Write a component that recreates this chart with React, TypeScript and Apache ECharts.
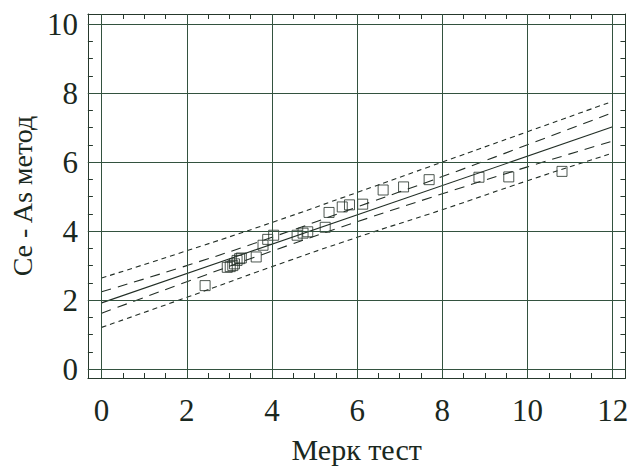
import React, { useEffect, useRef } from "react";
import * as echarts from "echarts";

// Scatter data: Merck test (x) vs Ce-As method (y)
const merckX = [2.43, 2.95, 3.02, 3.08, 3.12, 3.18, 3.24, 3.28, 3.63, 3.79, 3.9, 4.04, 4.59, 4.73, 4.84, 5.25, 5.34, 5.65, 5.82, 6.13, 6.61, 7.09, 7.69, 8.86, 9.56, 10.81];
const ceAsY = [2.42, 2.95, 2.97, 3.0, 3.05, 3.15, 3.2, 3.22, 3.25, 3.59, 3.76, 3.88, 3.88, 3.94, 3.98, 4.11, 4.54, 4.7, 4.76, 4.78, 5.19, 5.28, 5.49, 5.56, 5.57, 5.73];

// Regression line
const fitX = [0, 12];
const fitY = [1.92, 7.02];

// Bands read at grid x positions
const bandX = [0, 2, 4, 6, 8, 10, 12];
const upperPred = [2.64, 3.43, 4.25, 5.12, 6.0, 6.88, 7.76];
const upperConf = [2.24, 3.0, 3.82, 4.7, 5.58, 6.5, 7.43];
const lowerConf = [1.62, 2.53, 3.42, 4.27, 5.08, 5.86, 6.61];
const lowerPred = [1.21, 2.08, 2.97, 3.82, 4.62, 5.46, 6.26];

// Ticks
const xMajorTicks = [0, 2, 4, 6, 8, 10, 12];
const yMajorTicks = [0, 2, 4, 6, 8, 10];
const xMinorTicks = [0, 0.5, 1, 1.5, 2, 2.5, 3, 3.5, 4, 4.5, 5, 5.5, 6, 6.5, 7, 7.5, 8, 8.5, 9, 9.5, 10, 10.5, 11, 11.5, 12];
const yMinorTicks = [0, 0.5, 1, 1.5, 2, 2.5, 3, 3.5, 4, 4.5, 5, 5.5, 6, 6.5, 7, 7.5, 8, 8.5, 9, 9.5, 10];

const X_MIN = -0.322;
const X_MAX = 12.3;
const Y_MIN = -0.257;
const Y_MAX = 10.29;

const FONT = "'Liberation Serif', 'DejaVu Serif', serif";
const TEXT = "#1a2820";
const AXIS = "#26382c";
const GRID = "#33523f";
const INK = "#222e26";

const zip = (xs: number[], ys: number[]) => xs.map((x, i) => [x, ys[i]]);

export default function App() {
  const ref = useRef<HTMLDivElement>(null);

  useEffect(() => {
    if (!ref.current) return;
    const chart = echarts.init(ref.current, undefined, { renderer: "svg" });

    const frameAxis = (pos: string, isX: boolean, main: boolean) => ({
      type: "value",
      position: pos,
      min: isX ? X_MIN : Y_MIN,
      max: isX ? X_MAX : Y_MAX,
      axisLine: { show: true, onZero: false, lineStyle: { color: AXIS, width: 1 } },
      axisTick: {
        show: true,
        inside: true,
        length: 5,
        customValues: isX ? xMinorTicks : yMinorTicks,
        lineStyle: { color: AXIS, width: 1 },
      },
      axisLabel: main
        ? {
            show: true,
            customValues: isX ? xMajorTicks : yMajorTicks,
            margin: isX ? 17 : 10,
            fontSize: 31,
            fontFamily: FONT,
            color: TEXT,
          }
        : { show: false },
      splitLine: { show: false },
      ...(main
        ? {
            name: isX ? "Мерк тест" : "Ce - As метод",
            nameLocation: "middle",
            nameGap: isX ? 56 : 49,
            nameTextStyle: { fontSize: isX ? 30 : 28, fontFamily: FONT, color: TEXT },
          }
        : {}),
    });

    const dashLine = (name: string, ys: number[], dash: number[]) => ({
      name,
      type: "line",
      data: zip(bandX, ys),
      smooth: true,
      showSymbol: false,
      symbol: "none",
      silent: true,
      lineStyle: { color: INK, width: 1.1, type: dash },
      z: 3,
    });

    chart.setOption({
      animation: false,
      backgroundColor: "#ffffff",
      grid: { left: 80, top: 14, width: 548, height: 369, containLabel: false },
      xAxis: [frameAxis("bottom", true, true), frameAxis("top", true, false)],
      yAxis: [frameAxis("left", false, true), frameAxis("right", false, false)],
      series: [
        {
          name: "grid",
          type: "line",
          data: [],
          silent: true,
          z: 1,
          markLine: {
            silent: true,
            symbol: "none",
            label: { show: false },
            lineStyle: { color: GRID, width: 1, type: "solid" },
            data: [
              ...xMajorTicks.map((v) => ({ xAxis: v })),
              ...yMajorTicks.map((v) => ({ yAxis: v })),
            ],
          },
        },
        dashLine("upperPred", upperPred, [5, 4]),
        dashLine("upperConf", upperConf, [10, 7]),
        dashLine("lowerConf", lowerConf, [10, 7]),
        dashLine("lowerPred", lowerPred, [5, 4]),
        {
          name: "fit",
          type: "line",
          data: zip(fitX, fitY),
          showSymbol: false,
          symbol: "none",
          silent: true,
          lineStyle: { color: INK, width: 1.1 },
          z: 3,
        },
        {
          name: "data",
          type: "scatter",
          data: zip(merckX, ceAsY),
          symbol: "rect",
          symbolSize: 10,
          itemStyle: { color: "rgba(255,255,255,0)", borderColor: INK, borderWidth: 1 },
          z: 4,
        },
      ],
    });

    return () => chart.dispose();
  }, []);

  return (
    <div
      ref={ref}
      style={{ position: "fixed", left: 0, top: 0, width: 631, height: 469, background: "#fff" }}
    />
  );
}
